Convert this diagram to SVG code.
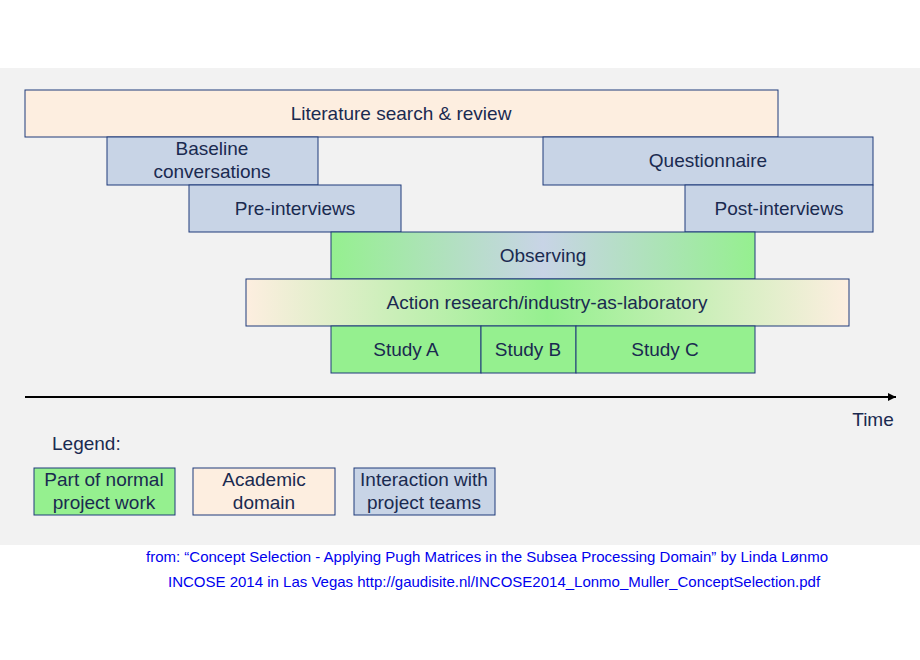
<svg xmlns="http://www.w3.org/2000/svg" width="920" height="660" viewBox="0 0 920 660">
<style>
.b{stroke:#1f3a7a;stroke-width:1}
.g{fill:#95f08f}.p{fill:#fdeee0}.s{fill:#c8d4e6}
text{font-family:Arial,"Liberation Sans",sans-serif;font-size:19px;fill:#1a2a50;text-anchor:middle}
.src{font-size:15px;fill:#0000ee;text-anchor:start}
</style>
<defs>
<linearGradient id="obs"><stop offset="0" stop-color="#95f08f"/><stop offset="0.5" stop-color="#c8d4e6"/><stop offset="1" stop-color="#95f08f"/></linearGradient>
<linearGradient id="act"><stop offset="0" stop-color="#fdeee0"/><stop offset="0.5" stop-color="#95f08f"/><stop offset="1" stop-color="#fdeee0"/></linearGradient>
<marker id="ah" viewBox="0 0 10 10" refX="10" refY="5" markerWidth="8" markerHeight="8" orient="auto" markerUnits="userSpaceOnUse"><path d="M0,0L10,5L0,10z" fill="#000"/></marker>
</defs>
<rect x="0" y="68" width="920" height="477" fill="#f2f2f2"/>
<g id="lit"><rect class="b p" x="25" y="90" width="753" height="47"/><text x="401" y="120">Literature search &amp; review</text></g>
<g id="base"><rect class="b s" x="107" y="137" width="211" height="48"/><text x="212" y="155">Baseline</text><text x="212" y="178">conversations</text></g>
<g id="quest"><rect class="b s" x="543" y="137" width="330" height="48"/><text x="708" y="167">Questionnaire</text></g>
<g id="pre"><rect class="b s" x="189" y="185" width="212" height="47"/><text x="295" y="215">Pre-interviews</text></g>
<g id="post"><rect class="b s" x="685" y="185" width="188" height="47"/><text x="779" y="215">Post-interviews</text></g>
<g id="obsv"><rect class="b" fill="url(#obs)" x="331" y="232" width="424" height="47"/><text x="543" y="262">Observing</text></g>
<g id="action"><rect class="b" fill="url(#act)" x="246" y="279" width="603" height="47"/><text x="547" y="309">Action research/industry-as-laboratory</text></g>
<g id="sa"><rect class="b g" x="331" y="326" width="150" height="47"/><text x="406" y="356">Study A</text></g>
<g id="sb"><rect class="b g" x="481" y="326" width="95" height="47"/><text x="528" y="356">Study B</text></g>
<g id="sc"><rect class="b g" x="576" y="326" width="179" height="47"/><text x="665" y="356">Study C</text></g>
<g id="connectors"><line x1="25" y1="397" x2="896" y2="397" stroke="#000" stroke-width="2" marker-end="url(#ah)"/></g>
<text x="873" y="426">Time</text>
<text x="52" y="450" style="text-anchor:start">Legend:</text>
<g id="lg1"><rect class="b g" x="34" y="468" width="141" height="47"/><text x="104" y="486">Part of normal</text><text x="104" y="509">project work</text></g>
<g id="lg2"><rect class="b p" x="193" y="468" width="142" height="47"/><text x="264" y="486">Academic</text><text x="264" y="509">domain</text></g>
<g id="lg3"><rect class="b s" x="354" y="468" width="141" height="47"/><text x="424" y="486">Interaction with</text><text x="424" y="509">project teams</text></g>
<text class="src" x="146" y="562">from:  “Concept Selection - Applying Pugh Matrices in the Subsea Processing Domain” by Linda Lønmo</text>
<text class="src" x="168" y="587">INCOSE 2014 in Las Vegas http://gaudisite.nl/INCOSE2014_Lonmo_Muller_ConceptSelection.pdf</text>
</svg>
